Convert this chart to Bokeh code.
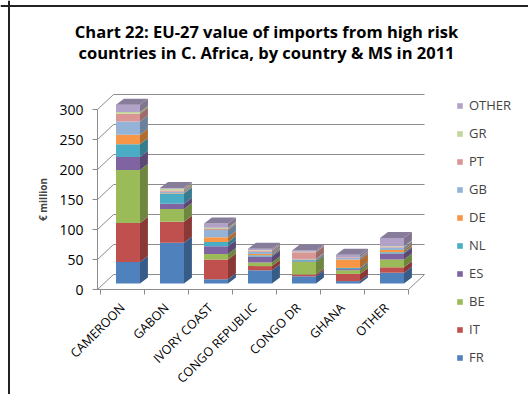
import math
from bokeh.plotting import figure
from bokeh.models import Range1d, FixedTicker, Legend, LegendItem, Label, LinearAxis, Span
from bokeh.embed import file_html
from bokeh.resources import INLINE

# ---------------- data ----------------
countries = ["CAMEROON", "GABON", "IVORY COAST", "CONGO REPUBLIC", "CONGO DR", "GHANA", "OTHER"]
series = ["FR", "IT", "BE", "ES", "NL", "DE", "GB", "PT", "GR", "OTHER"]
FR = [36, 68, 7, 22, 12, 4, 18]
IT = [65, 35, 33, 7, 3, 12, 9]
BE = [88, 21, 9, 6, 21, 6, 13]
ES = [22, 9, 13, 10, 1, 2, 10]
NL = [21, 17, 7, 2, 2, 2, 2]
DE = [16, 1, 8, 2, 1, 14, 4]
GB = [22, 2, 12, 4, 1, 3, 4]
PT = [13, 2, 2, 2, 11, 1, 1]
GR = [3, 3, 2, 1, 1, 0, 1]
OTHER_MS = [12, 1, 7, 2, 2, 4, 14]
values = [FR, IT, BE, ES, NL, DE, GB, PT, GR, OTHER_MS]
y_ticks = [0, 50, 100, 150, 200, 250, 300]
title_lines = ["Chart 22: EU-27 value of imports from high risk",
               "countries in C. Africa, by country & MS in 2011"]

colors = ["#4F81BD", "#C0504D", "#9BBB59", "#8064A2", "#4BACC6",
          "#F79646", "#95B3D7", "#D99694", "#C3D69B", "#B3A2C7"]

def shade(hexc, f):
    r, g, b = int(hexc[1:3], 16), int(hexc[3:5], 16), int(hexc[5:7], 16)
    return "#%02x%02x%02x" % (int(r * f), int(g * f), int(b * f))

# ---------------- geometry (pseudo 3-D) ----------------
W, H = 528, 394
PX_X = 44.0      # px per category
PX_Y = 0.6       # px per unit value
CX0 = 122        # canvas x of first category centre
CY0 = 289        # canvas y (from top) of value 0
X0, X1 = -CX0 / PX_X, (W - CX0) / PX_X
Y0, Y1 = -(H - CY0) / PX_Y, CY0 / PX_Y
X_AX = (97 - CX0) / PX_X

BAR_W = 0.545
BAR_DX = 0.125
BAR_BASE = 10
DEP_X = 0.18
DEP_Y = 10
WALL_X = 0.364
WALL_Y = 25

p = figure(frame_width=W, frame_height=H,
           x_range=Range1d(X0, X1), y_range=Range1d(Y0, Y1),
           output_backend="svg", toolbar_location=None,
           x_axis_location=None, y_axis_location=None,
           min_border=0)
p.outline_line_color = None
p.xgrid.grid_line_color = None
p.ygrid.grid_line_color = None
p.background_fill_color = "white"
p.border_fill_color = "white"

# chart border (left and top visible)
p.add_layout(Span(location=(8.5 - CX0) / PX_X, dimension="height", line_color="#222222", line_width=2))
p.add_layout(Span(location=(CY0 - 5.5) / PX_Y, dimension="width", line_color="#222222", line_width=2))

GRID = "#8C8C8C"
gx0 = [X_AX + WALL_X for v in y_ticks]
gx1 = [6.5 + WALL_X for v in y_ticks]
gy = [v + WALL_Y for v in y_ticks]
p.segment(x0=gx0, y0=gy, x1=gx1, y1=gy, line_color=GRID, line_width=1)
p.segment(x0=[X_AX] * len(y_ticks), y0=y_ticks, x1=gx0, y1=gy, line_color=GRID, line_width=1)
p.segment(x0=[X_AX, 6.5], y0=[0, 0], x1=[6.5, 6.5 + WALL_X], y1=[0, WALL_Y],
          line_color=GRID, line_width=1)

xs = list(range(len(countries)))
cum = [0] * len(countries)
legend_map = {}
for si, (name, vals) in enumerate(zip(series, values)):
    bottoms = [BAR_BASE + c for c in cum]
    tops = [BAR_BASE + c + v for c, v in zip(cum, vals)]
    xc = [x + BAR_DX for x in xs]
    r = p.vbar(x=xc, bottom=bottoms, top=tops, width=BAR_W,
               fill_color=colors[si], line_color=None)
    legend_map[name] = r
    sx, sy = [], []
    for x, b, t in zip(xc, bottoms, tops):
        if t > b:
            xr = x + BAR_W / 2
            sx.append([xr, xr + DEP_X, xr + DEP_X, xr])
            sy.append([b, b + DEP_Y, t + DEP_Y, t])
    p.patches(xs=sx, ys=sy, fill_color=shade(colors[si], 0.72), line_color=None)
    cum = [c + v for c, v in zip(cum, vals)]

tx, ty = [], []
for x, c in zip(xs, cum):
    xl = x + BAR_DX - BAR_W / 2
    xr = x + BAR_DX + BAR_W / 2
    t = BAR_BASE + c
    tx.append([xl, xl + DEP_X, xr + DEP_X, xr])
    ty.append([t, t + DEP_Y, t + DEP_Y, t])
p.patches(xs=tx, ys=ty, fill_color="#877C9A", line_color=None)

FONT = "Open Sans"
# y axis
yax = LinearAxis(fixed_location=X_AX)
yax.ticker = FixedTicker(ticks=y_ticks)
yax.bounds = (0, 300)
yax.axis_line_color = GRID
yax.major_tick_line_color = GRID
yax.major_tick_out = 5
yax.major_tick_in = 0
yax.minor_tick_line_color = None
yax.major_label_text_font = FONT
yax.major_label_text_font_size = "14px"
yax.major_label_text_color = "black"
yax.major_label_standoff = 9
yax.axis_label = "€ million"
yax.axis_label_text_font = FONT
yax.axis_label_text_font_style = "bold"
yax.axis_label_text_font_size = "10px"
yax.axis_label_standoff = 6
p.add_layout(yax, "left")

# x axis
xax = LinearAxis(fixed_location=0)
xax.ticker = FixedTicker(ticks=xs, minor_ticks=[i - 0.5 for i in range(len(countries) + 1)])
xax.major_label_overrides = {i: c for i, c in enumerate(countries)}
xax.axis_line_color = None
xax.major_tick_line_color = None
xax.minor_tick_line_color = GRID
xax.minor_tick_out = 5
xax.minor_tick_in = 0
xax.major_label_orientation = math.pi / 4
xax.major_label_text_font = FONT
xax.major_label_text_font_size = "12.5px"
xax.major_label_text_color = "black"
xax.major_label_standoff = 10
p.add_layout(xax, "below")

# legend
items = [LegendItem(label=n, renderers=[legend_map[n]]) for n in reversed(series)]
legend = Legend(items=items, location=(456, 28), orientation="vertical",
                glyph_width=7, glyph_height=7, label_height=14, spacing=10,
                label_standoff=6, padding=0, margin=0,
                border_line_color=None, background_fill_alpha=0,
                label_text_font=FONT, label_text_font_size="13px")
p.add_layout(legend, "center")

# title
TX = (266 - CX0) / PX_X
for line, cy in zip(title_lines, [31, 52]):
    p.add_layout(Label(x=TX, y=(CY0 - cy) / PX_Y, text=line, text_align="center",
                       text_baseline="middle", text_font=FONT, text_font_size="16.5px",
                       text_font_style="bold", text_color="black"))

open("out.html", "w").write(file_html(p, INLINE))
